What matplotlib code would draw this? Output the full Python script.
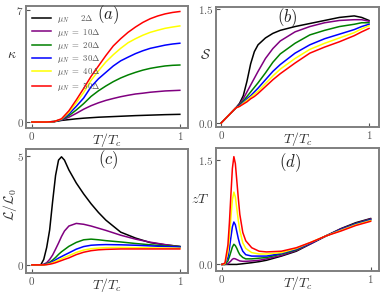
import matplotlib
matplotlib.use("Agg")
import matplotlib.pyplot as plt

plt.rcParams['mathtext.fontset'] = 'cm'
plt.rcParams['font.family'] = ['DejaVu Serif']

mu_labels = [r'$\mu_N\ \ \ \ \ 2\Delta$', r'$\mu_N\ =\ 10\Delta$', r'$\mu_N\ =\ 20\Delta$',
             r'$\mu_N\ =\ 30\Delta$', r'$\mu_N\ =\ 40\Delta$', r'$\mu_N\ =\ 50\Delta$']
colors = ['black', '#800080', '#008000', '#0000ff', '#ffff00', '#ff0000']

# Panel (a): kappa
T_a = [0, 0.05, 0.1, 0.15, 0.2, 0.25, 0.3, 0.35, 0.4, 0.45, 0.5, 0.55, 0.6, 0.65,
       0.7, 0.75, 0.8, 0.85, 0.9, 0.95, 1.0]
kappa_2 = [0, 0, 0, 0.02, 0.1, 0.15, 0.2, 0.24, 0.27, 0.3, 0.32, 0.34, 0.36, 0.38,
           0.4, 0.415, 0.43, 0.445, 0.46, 0.47, 0.48]
kappa_10 = [0, 0, 0, 0.03, 0.12, 0.3, 0.54, 0.8, 1.02, 1.2, 1.35, 1.47, 1.58, 1.67,
            1.75, 1.8, 1.86, 1.9, 1.94, 1.96, 1.98]
kappa_20 = [0, 0, 0, 0.03, 0.14, 0.4, 0.75, 1.15, 1.6, 1.95, 2.25, 2.52, 2.75, 2.94,
            3.1, 3.24, 3.35, 3.43, 3.5, 3.54, 3.56]
kappa_30 = [0, 0, 0, 0.03, 0.16, 0.5, 0.98, 1.5, 2.2, 2.7, 3.1, 3.5, 3.82, 4.05,
            4.27, 4.45, 4.6, 4.7, 4.8, 4.87, 4.92]
kappa_40 = [0, 0, 0, 0.03, 0.18, 0.6, 1.2, 1.85, 2.6, 3.2, 3.75, 4.2, 4.6, 4.95,
            5.2, 5.42, 5.6, 5.73, 5.85, 5.93, 6.0]
kappa_50 = [0, 0, 0, 0.03, 0.2, 0.7, 1.38, 2.1, 2.85, 3.5, 4.15, 4.75, 5.2, 5.6,
            5.93, 6.22, 6.45, 6.62, 6.75, 6.84, 6.9]

# Panel (b): S
T_b = [0, 0.05, 0.1, 0.125, 0.15, 0.175, 0.2, 0.225, 0.25, 0.3, 0.35, 0.4, 0.5,
       0.6, 0.7, 0.8, 0.9, 0.95, 1.0]
S_2 = [0, 0.1, 0.2, 0.26, 0.36, 0.55, 0.78, 0.94, 1.03, 1.12, 1.18, 1.22, 1.27,
       1.31, 1.35, 1.39, 1.41, 1.39, 1.35]
S_10 = [0, 0.1, 0.2, 0.25, 0.32, 0.41, 0.5, 0.59, 0.68, 0.85, 0.98, 1.08, 1.2,
        1.27, 1.32, 1.35, 1.36, 1.36, 1.34]
S_20 = [0, 0.1, 0.2, 0.24, 0.29, 0.35, 0.41, 0.47, 0.53, 0.66, 0.8, 0.91, 1.05,
        1.16, 1.22, 1.27, 1.3, 1.32, 1.32]
S_30 = [0, 0.1, 0.2, 0.23, 0.27, 0.32, 0.36, 0.41, 0.46, 0.57, 0.68, 0.77, 0.92,
        1.03, 1.11, 1.17, 1.23, 1.27, 1.3]
S_40 = [0, 0.1, 0.2, 0.22, 0.26, 0.3, 0.34, 0.38, 0.42, 0.52, 0.62, 0.71, 0.85,
        0.97, 1.05, 1.12, 1.19, 1.24, 1.28]
S_50 = [0, 0.1, 0.2, 0.22, 0.25, 0.28, 0.32, 0.35, 0.39, 0.48, 0.57, 0.65, 0.79,
        0.92, 1.0, 1.07, 1.15, 1.2, 1.245]

# Panel (c): L/L0
T_c = [0, 0.04, 0.06, 0.08, 0.1, 0.12, 0.14, 0.16, 0.18, 0.2, 0.22, 0.25, 0.3,
       0.35, 0.4, 0.45, 0.5, 0.6, 0.7, 0.8, 0.9, 1.0]
L_2 = [0, 0, 0, 0.25, 0.8, 1.6, 2.9, 4.1, 4.8, 4.95, 4.8, 4.35, 3.75, 3.25, 2.8,
       2.4, 2.05, 1.5, 1.23, 1.02, 0.92, 0.84]
L_10 = [0, 0, 0, 0.03, 0.1, 0.25, 0.45, 0.72, 1.0, 1.3, 1.55, 1.78, 1.9, 1.86,
        1.78, 1.68, 1.58, 1.36, 1.18, 1.04, 0.93, 0.84]
L_20 = [0, 0, 0, 0.01, 0.05, 0.12, 0.22, 0.34, 0.48, 0.6, 0.7, 0.85, 1.03, 1.15,
        1.18, 1.15, 1.11, 1.05, 0.98, 0.92, 0.87, 0.84]
L_30 = [0, 0, 0, 0.01, 0.03, 0.08, 0.15, 0.23, 0.31, 0.38, 0.45, 0.55, 0.72, 0.84,
        0.9, 0.92, 0.93, 0.92, 0.9, 0.87, 0.84, 0.82]
L_40 = [0, 0, 0, 0, 0.02, 0.05, 0.1, 0.16, 0.22, 0.28, 0.34, 0.42, 0.57, 0.68,
        0.74, 0.77, 0.79, 0.8, 0.79, 0.78, 0.77, 0.76]
L_50 = [0, 0, 0, 0, 0.01, 0.03, 0.06, 0.1, 0.15, 0.2, 0.25, 0.32, 0.47, 0.58,
        0.65, 0.69, 0.71, 0.73, 0.73, 0.73, 0.73, 0.73]

# Panel (d): zT
T_d = [0, 0.02, 0.04, 0.05, 0.06, 0.07, 0.08, 0.09, 0.1, 0.11, 0.12, 0.14, 0.16,
       0.2, 0.25, 0.3, 0.4, 0.5, 0.6, 0.7, 0.8, 0.9, 1.0]
zT_2 = [0, 0, 0, 0, 0, 0, 0, 0, 0, 0.003, 0.005, 0.01, 0.015, 0.025, 0.04, 0.06,
        0.12, 0.19, 0.3, 0.41, 0.515, 0.6, 0.66]
zT_10 = [0, 0, 0.01, 0.03, 0.05, 0.075, 0.085, 0.08, 0.07, 0.06, 0.05, 0.045,
         0.045, 0.05, 0.06, 0.08, 0.13, 0.2, 0.3, 0.41, 0.51, 0.59, 0.655]
zT_20 = [0, 0, 0.05, 0.11, 0.18, 0.25, 0.29, 0.27, 0.23, 0.18, 0.14, 0.1, 0.08,
         0.08, 0.09, 0.1, 0.15, 0.21, 0.31, 0.41, 0.5, 0.585, 0.645]
zT_30 = [0, 0.01, 0.1, 0.23, 0.39, 0.54, 0.61, 0.57, 0.47, 0.37, 0.29, 0.19, 0.14,
         0.12, 0.12, 0.12, 0.16, 0.22, 0.31, 0.41, 0.5, 0.58, 0.64]
zT_40 = [0, 0.01, 0.18, 0.4, 0.67, 0.93, 1.04, 0.97, 0.8, 0.63, 0.49, 0.31, 0.23,
         0.17, 0.15, 0.15, 0.17, 0.23, 0.32, 0.41, 0.49, 0.57, 0.63]
zT_50 = [0, 0.02, 0.28, 0.6, 1.0, 1.38, 1.55, 1.45, 1.2, 0.95, 0.72, 0.46, 0.34,
         0.24, 0.19, 0.18, 0.19, 0.24, 0.32, 0.41, 0.48, 0.56, 0.62]

x_ticks = [0, 1]
x_ticklabels = ['$0$', '$1$']
panels = [
    dict(T=T_a, Y=[kappa_2, kappa_10, kappa_20, kappa_30, kappa_40, kappa_50],
         rect=[0.068, 0.566, 0.425, 0.414], xlim=(-0.0405, 1.054), ylim=(-0.375, 7.25),
         yticks=[0, 7], yticklabels=['$0$', '$7$'], ylabel=r'$\kappa$', yrot=0,
         ylab_pos=(-0.086, 0.61), xlab_y=-0.1, tag='$(a)$', tag_pos=(0.506, 0.926)),
    dict(T=T_b, Y=[S_2, S_10, S_20, S_30, S_40, S_50],
         rect=[0.567, 0.569, 0.428, 0.407], xlim=(-0.034, 1.068), ylim=(-0.053, 1.526),
         yticks=[0, 1.5], yticklabels=['$0.0$', '$1.5$'], ylabel=r'$\mathcal{S}$', yrot=0,
         ylab_pos=(-0.067, 0.6), xlab_y=-0.1, tag='$(b)$', tag_pos=(0.436, 0.908)),
    dict(T=T_c, Y=[L_2, L_10, L_20, L_30, L_40, L_50],
         rect=[0.068, 0.075, 0.425, 0.420], xlim=(-0.0405, 1.054), ylim=(-0.366, 5.31),
         yticks=[0, 5], yticklabels=['$0$', '$5$'], ylabel=r'$\mathcal{L}/\mathcal{L}_0$', yrot=90,
         ylab_pos=(-0.1, 0.55), xlab_y=-0.097, tag='$(c)$', tag_pos=(0.506, 0.91)),
    dict(T=T_d, Y=[zT_2, zT_10, zT_20, zT_30, zT_40, zT_50],
         rect=[0.567, 0.081, 0.428, 0.417], xlim=(-0.04, 1.057), ylim=(-0.096, 1.673),
         yticks=[0, 1.5], yticklabels=['$0.0$', '$1.5$'], ylabel=r'$zT$', yrot=0,
         ylab_pos=(-0.1, 0.59), xlab_y=-0.1, tag='$(d)$', tag_pos=(0.454, 0.878)),
]

fig = plt.figure(figsize=(3.81, 2.95), dpi=100)
frame_col = '#7f7f7f'
for i, p in enumerate(panels):
    ax = fig.add_axes(p['rect'])
    for y, c, lab in zip(p['Y'], colors, mu_labels):
        ax.plot(p['T'], y, color=c, lw=1.1, label=lab)
    ax.set_xlim(*p['xlim'])
    ax.set_ylim(*p['ylim'])
    ax.set_xticks(x_ticks)
    ax.set_xticklabels(x_ticklabels)
    ax.set_yticks(p['yticks'])
    ax.set_yticklabels(p['yticklabels'])
    ax.tick_params(direction='in', length=3, width=0.8, colors='#555555',
                   labelsize=8, pad=1.5)
    for s in ax.spines.values():
        s.set_color(frame_col)
        s.set_linewidth(1.4)
    xl = ax.set_xlabel(r'$T/T_c$', fontsize=10, color='#333333')
    xl.set_verticalalignment('center')
    ax.xaxis.set_label_coords(0.5, p['xlab_y'])
    yl = ax.set_ylabel(p['ylabel'], fontsize=10, color='#333333', rotation=p['yrot'])
    yl.set_horizontalalignment('center')
    yl.set_verticalalignment('center')
    ax.yaxis.set_label_coords(*p['ylab_pos'])
    ax.text(p['tag_pos'][0], p['tag_pos'][1], p['tag'], transform=ax.transAxes,
            fontsize=12, color='#222222', ha='center', va='center')
    if i == 0:
        leg = ax.legend(loc='upper left', bbox_to_anchor=(0.0, 0.99), frameon=False,
                        fontsize=6.3, handlelength=2.2, handletextpad=0.6,
                        labelspacing=0.15, borderaxespad=0.3)
        for t in leg.get_texts():
            t.set_color('#555555')

fig.savefig('out.png', dpi=100)
